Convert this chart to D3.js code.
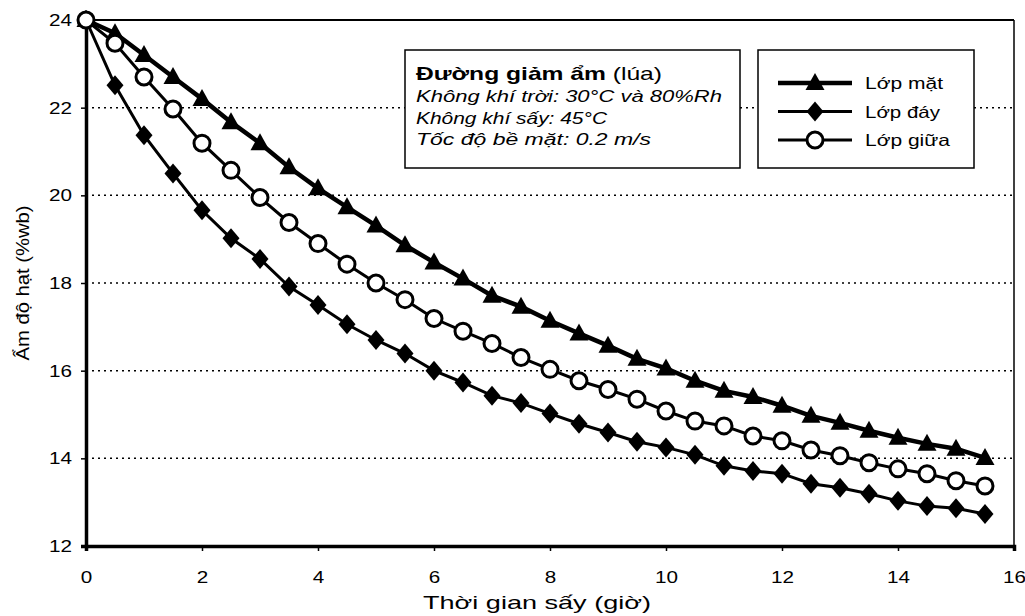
<!DOCTYPE html>
<html>
<head>
<meta charset="utf-8">
<script src="https://cdn.jsdelivr.net/npm/d3@7"></script>
<style>
  body { margin: 0; background: #fff; }
  svg { font-family: "Liberation Sans", Arial, sans-serif; }
</style>
</head>
<body>
<div id="chart"></div>
<script>
// drying time (hours), one reading every half hour
const hours = d3.range(0, 16, 0.5);

// moisture content (%wb) per layer
const lopMat = [24, 23.7, 23.2, 22.7, 22.2, 21.67, 21.19, 20.64, 20.16, 19.73, 19.31, 18.86, 18.47, 18.1, 17.71, 17.46,
  17.14, 16.85, 16.57, 16.27, 16.05, 15.77, 15.54, 15.4, 15.2, 14.97, 14.81, 14.63, 14.47, 14.33, 14.22, 14.01];
const lopDay = [24, 22.51, 21.37, 20.5, 19.66, 19.02, 18.55, 17.92, 17.5, 17.06, 16.7, 16.39, 16.0, 15.73, 15.43, 15.26,
  15.02, 14.79, 14.59, 14.38, 14.25, 14.08, 13.83, 13.71, 13.65, 13.42, 13.33, 13.19, 13.03, 12.91, 12.86, 12.73];
const lopGiua = [24, 23.47, 22.7, 21.97, 21.19, 20.57, 19.95, 19.38, 18.9, 18.43, 18.0, 17.62, 17.19, 16.9, 16.62, 16.3,
  16.03, 15.77, 15.57, 15.35, 15.08, 14.85, 14.74, 14.51, 14.4, 14.19, 14.06, 13.9, 13.76, 13.65, 13.49, 13.37];

const xTicks = [0, 2, 4, 6, 8, 10, 12, 14, 16];
const yTicks = [12, 14, 16, 18, 20, 22, 24];
const gridValues = [14, 16, 18, 20, 22];

const seriesNames = ["Lớp mặt", "Lớp đáy", "Lớp giữa"];
const noteLines = ["Không khí trời: 30°C và 80%Rh", "Không khí sấy: 45°C", "Tốc độ bề mặt: 0.2 m/s"];

let W = 1025, H = 616;
let margin = { top: 20, right: 11, bottom: 70, left: 86 };

// the scan is stretched sideways, so text gets a fixed width
let noteWidths = [306, 191, 235];
let legendWidths = [78, 75, 85];

let svg = d3.select("#chart").append("svg")
  .attr("width", W)
  .attr("height", H);

let x = d3.scaleLinear().domain([0, 16]).range([margin.left, W - margin.right]);
let y = d3.scaleLinear().domain([12, 24]).range([H - margin.bottom, margin.top]);

// dotted grid
svg.selectAll(".grid")
  .data(gridValues)
  .enter().append("line")
  .attr("class", "grid")
  .attr("x1", x(0)).attr("x2", x(16))
  .attr("y1", d => y(d)).attr("y2", d => y(d))
  .attr("stroke", "#000")
  .attr("stroke-width", 1.5)
  .attr("stroke-dasharray", "2,4");

// frame: top and right thin, left and bottom heavy
svg.append("line").attr("x1", x(0)).attr("x2", x(16)).attr("y1", y(24)).attr("y2", y(24))
  .attr("stroke", "#000").attr("stroke-width", 2);
svg.append("line").attr("x1", x(16)).attr("x2", x(16)).attr("y1", y(24)).attr("y2", y(12))
  .attr("stroke", "#000").attr("stroke-width", 1.5);

// axes
let xAxis = d3.axisBottom(x).tickValues(xTicks).tickSize(5).tickPadding(20).tickFormat(d3.format("d"));
let gx = svg.append("g")
  .attr("transform", "translate(0," + y(12) + ")")
  .call(xAxis);

let yAxis = d3.axisLeft(y).tickValues(yTicks).tickSize(5).tickPadding(9).tickFormat(d3.format("d"));
let gy = svg.append("g")
  .attr("transform", "translate(" + x(0) + ",0)")
  .call(yAxis);

[gx, gy].forEach(g => {
  g.select(".domain").attr("stroke", "#000").attr("stroke-width", 3.5);
  g.selectAll(".tick line").attr("stroke", "#000").attr("stroke-width", 1.5);
  g.selectAll(".tick text")
    .attr("fill", "#000")
    .attr("textLength", d => String(d).length * 11.5)
    .attr("lengthAdjust", "spacingAndGlyphs")
    .style("font-size", "17px")
    .style("font-family", "'Liberation Sans', Arial, sans-serif");
});

// axis titles
svg.append("text")
  .attr("x", 537)
  .attr("y", 609)
  .attr("textLength", 228)
  .attr("lengthAdjust", "spacingAndGlyphs")
  .style("text-anchor", "middle")
  .style("font-size", "19px")
  .text("Thời gian sấy (giờ)");

svg.append("text")
  .attr("transform", "rotate(-90)")
  .attr("x", -283)
  .attr("y", 29)
  .attr("textLength", 155)
  .attr("lengthAdjust", "spacingAndGlyphs")
  .style("text-anchor", "middle")
  .style("font-size", "18px")
  .text("Ẩm độ hạt (%wb)");

// marker shapes
function trianglePath(cx, cy) {
  return "M" + cx + "," + (cy - 10) + "L" + (cx + 9.5) + "," + (cy + 7) + "L" + (cx - 9.5) + "," + (cy + 7) + "Z";
}
function diamondPath(cx, cy) {
  return "M" + cx + "," + (cy - 10) + "L" + (cx + 8.5) + "," + cy + "L" + cx + "," + (cy + 10) + "L" + (cx - 8.5) + "," + cy + "Z";
}

let line = d3.line()
  .x(d => x(d[0]))
  .y(d => y(d[1]));

function drawSeries(values, kind, lineWidth) {
  const pts = hours.map((h, i) => [h, values[i]]);
  svg.append("path")
    .datum(pts)
    .attr("d", line)
    .attr("fill", "none")
    .attr("stroke", "#000")
    .attr("stroke-width", lineWidth);

  if (kind === "circle") {
    svg.selectAll(".dot-" + kind)
      .data(pts)
      .enter().append("circle")
      .attr("class", "dot-" + kind)
      .attr("cx", d => x(d[0]))
      .attr("cy", d => y(d[1]))
      .attr("r", 8)
      .attr("fill", "#fff")
      .attr("stroke", "#000")
      .attr("stroke-width", 3);
  } else {
    svg.selectAll(".dot-" + kind)
      .data(pts)
      .enter().append("path")
      .attr("class", "dot-" + kind)
      .attr("d", d => kind === "triangle" ? trianglePath(x(d[0]), y(d[1])) : diamondPath(x(d[0]), y(d[1])))
      .attr("fill", "#000");
  }
}

drawSeries(lopMat, "triangle", 4.5);
drawSeries(lopDay, "diamond", 3);
drawSeries(lopGiua, "circle", 3);

// note box
svg.append("rect")
  .attr("x", 405).attr("y", 50)
  .attr("width", 335).attr("height", 118)
  .attr("fill", "#fff")
  .attr("stroke", "#000")
  .attr("stroke-width", 1.5);

let title = svg.append("text")
  .attr("x", 416).attr("y", 80)
  .attr("textLength", 246)
  .attr("lengthAdjust", "spacingAndGlyphs")
  .style("font-size", "19px");
title.append("tspan").style("font-weight", "bold").text("Đường giảm ẩm");
title.append("tspan").text(" (lúa)");

svg.selectAll(".note")
  .data(noteLines)
  .enter().append("text")
  .attr("class", "note")
  .attr("x", 416)
  .attr("y", (d, i) => 102 + i * 21.5)
  .attr("textLength", (d, i) => noteWidths[i])
  .attr("lengthAdjust", "spacingAndGlyphs")
  .style("font-size", "16.5px")
  .style("font-style", "italic")
  .text(d => d);

// legend box
svg.append("rect")
  .attr("x", 758).attr("y", 50)
  .attr("width", 216).attr("height", 118)
  .attr("fill", "#fff")
  .attr("stroke", "#000")
  .attr("stroke-width", 1.5);

const legendKinds = ["triangle", "diamond", "circle"];
legendKinds.forEach((kind, i) => {
  const cy = 83 + i * 28.5;
  svg.append("line")
    .attr("x1", 778).attr("x2", 852)
    .attr("y1", cy).attr("y2", cy)
    .attr("stroke", "#000")
    .attr("stroke-width", kind === "triangle" ? 4.5 : 3);
  if (kind === "circle") {
    svg.append("circle").attr("cx", 815).attr("cy", cy).attr("r", 8)
      .attr("fill", "#fff").attr("stroke", "#000").attr("stroke-width", 3);
  } else {
    svg.append("path")
      .attr("d", kind === "triangle" ? trianglePath(815, cy) : diamondPath(815, cy))
      .attr("fill", "#000");
  }
  svg.append("text")
    .attr("x", 865).attr("y", cy + 6)
    .attr("textLength", legendWidths[i])
    .attr("lengthAdjust", "spacingAndGlyphs")
    .style("font-size", "16.5px")
    .text(seriesNames[i]);
});
</script>
</body>
</html>
